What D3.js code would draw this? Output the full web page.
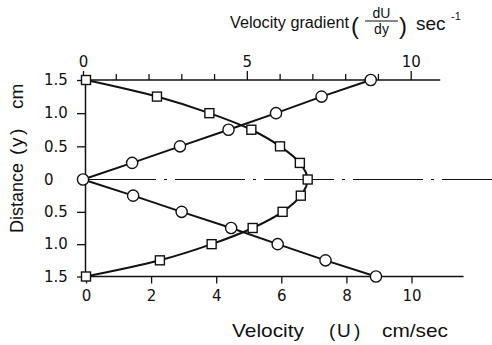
<!DOCTYPE html>
<html><head><meta charset="utf-8">
<script src="https://cdn.jsdelivr.net/npm/d3@7"></script>
<style>
html,body{margin:0;padding:0;background:#fff;}
svg{display:block;font-family:"DejaVu Sans",sans-serif;}
</style></head><body>
<svg id="chart" width="492" height="345"></svg>
<script>
// Distance from the centre line (cm); points below the centre are negative
const distance = [1.5, 1.25, 1.0, 0.75, 0.5, 0.25, 0, -0.25, -0.5, -0.75, -1.0, -1.25, -1.5];
// Velocity U (cm/sec) at each distance
const velocity = [0, 2.18, 3.79, 5.08, 5.96, 6.57, 6.81, 6.6, 6.04, 5.12, 3.86, 2.27, 0];
// Velocity gradient dU/dy (sec^-1) at each distance
const gradient = [8.78, 7.28, 5.89, 4.44, 2.96, 1.5, 0, 1.53, 3.01, 4.52, 5.94, 7.4, 8.94];

const velocityTicks = [0, 2, 4, 6, 8, 10];
const gradientMajorTicks = [0, 5, 10];
const gradientMinorTicks = [1, 2, 3, 4, 6, 7, 8, 9];
const distanceTicks = [1.5, 1.0, 0.5, 0, -0.5, -1.0, -1.5];

const svg = d3.select("#chart");
const ink = "#111";
const tickFont = "DejaVu Sans";
const titleFont = "Liberation Sans";

const xVel = d3.scaleLinear().domain([0, 10]).range([86, 411.5]);
const xGrad = d3.scaleLinear().domain([0, 10]).range([83, 410.7]);
const y = d3.scaleLinear().domain([1.5, 0, -1.5]).range([80, 179.5, 276.5]);
const axisX = 85;

const pts = distance.map((d, i) => ({d, v: velocity[i], g: gradient[i]}));

// centre line (dash-dot)
svg.append("line")
  .attr("x1", xVel(0)).attr("x2", 492)
  .attr("y1", y(0)).attr("y2", y(0))
  .attr("stroke", ink).attr("stroke-width", 1.1)
  .attr("stroke-dasharray", "70,8,3,8");

// left axis
const left = svg.append("g").attr("transform", `translate(${axisX},0)`)
  .call(d3.axisLeft(y).tickValues(distanceTicks).tickSize(8).tickSizeOuter(0)
    .tickFormat(d => d === 0 ? "0" : d3.format(".1f")(Math.abs(d))));
left.select(".domain").attr("stroke", ink).attr("stroke-width", 1.5);
left.selectAll(".tick line").attr("stroke", ink).attr("stroke-width", 1.3);
left.selectAll(".tick text").attr("text-anchor", "start").attr("x", 44 - axisX)
  .attr("font-size", 15).attr("font-family", tickFont).attr("fill", ink);

// top axis (velocity gradient)
const topY = y(1.5);
const topMajor = svg.append("g").attr("transform", `translate(0,${topY})`)
  .call(d3.axisTop(xGrad).tickValues(gradientMajorTicks).tickSize(9).tickPadding(4));
const topMinor = svg.append("g").attr("transform", `translate(0,${topY})`)
  .call(d3.axisTop(xGrad).tickValues(gradientMinorTicks).tickSize(6).tickFormat(""));
svg.append("line").attr("x1", xGrad(0)).attr("x2", xGrad(10.9))
  .attr("y1", topY).attr("y2", topY).attr("stroke", ink).attr("stroke-width", 1.5);

// bottom axis (velocity)
const botY = y(-1.5);
const bottom = svg.append("g").attr("transform", `translate(0,${botY})`)
  .call(d3.axisBottom(xVel).tickValues(velocityTicks).tickSize(7).tickPadding(7));
svg.append("line").attr("x1", xVel(0)).attr("x2", xVel(11.6))
  .attr("y1", botY).attr("y2", botY).attr("stroke", ink).attr("stroke-width", 1.5);

[topMajor, topMinor, bottom].forEach(g => {
  g.select(".domain").remove();
  g.selectAll(".tick line").attr("stroke", ink).attr("stroke-width", 1.3);
  g.selectAll(".tick text").attr("font-size", 15).attr("font-family", tickFont).attr("fill", ink);
});

// velocity profile (smooth curve through squares)
svg.append("path")
  .datum(pts)
  .attr("fill", "none").attr("stroke", ink).attr("stroke-width", 2)
  .attr("d", d3.line().x(p => xVel(p.v)).y(p => y(p.d)).curve(d3.curveCatmullRom.alpha(0.5)));

// velocity gradient (straight segments through circles), upper and lower halves
const gLine = d3.line().x(p => xGrad(p.g)).y(p => y(p.d));
svg.append("path").datum(pts.filter(p => p.d >= 0))
  .attr("fill", "none").attr("stroke", ink).attr("stroke-width", 2).attr("d", gLine);
svg.append("path").datum(pts.filter(p => p.d <= 0))
  .attr("fill", "none").attr("stroke", ink).attr("stroke-width", 2).attr("d", gLine);

// markers
const side = 9;
svg.append("g").selectAll("rect").data(pts).join("rect")
  .attr("x", p => xVel(p.v) - side / 2).attr("y", p => y(p.d) - side / 2)
  .attr("width", side).attr("height", side)
  .attr("fill", "#fff").attr("stroke", ink).attr("stroke-width", 1.4);
svg.append("g").selectAll("circle").data(pts).join("circle")
  .attr("cx", p => xGrad(p.g)).attr("cy", p => y(p.d)).attr("r", 5.6)
  .attr("fill", "#fff").attr("stroke", ink).attr("stroke-width", 1.4);

// top title: Velocity gradient (dU/dy) sec^-1
const t = svg.append("g").attr("fill", ink).attr("font-family", titleFont);
t.append("text").attr("x", 230).attr("y", 28).attr("font-size", 16)
  .attr("textLength", 119).attr("lengthAdjust", "spacingAndGlyphs").text("Velocity gradient");
t.append("text").attr("x", 351).attr("y", 34).attr("font-size", 24).text("(");
t.append("text").attr("x", 381.5).attr("y", 18).attr("font-size", 14).attr("text-anchor", "middle").text("dU");
t.append("line").attr("x1", 365).attr("x2", 398).attr("y1", 21).attr("y2", 21)
  .attr("stroke", ink).attr("stroke-width", 1.2);
t.append("text").attr("x", 381.5).attr("y", 34).attr("font-size", 14).attr("text-anchor", "middle").text("dy");
t.append("text").attr("x", 399).attr("y", 34).attr("font-size", 24).text(")");
t.append("text").attr("x", 416).attr("y", 30).attr("font-size", 19).text("sec");
t.append("text").attr("x", 451).attr("y", 20).attr("font-size", 11).text("-1");

// bottom title: Velocity ( U ) cm/sec
const b = svg.append("g").attr("fill", ink).attr("font-family", titleFont).attr("font-size", 19);
b.append("text").attr("x", 232).attr("y", 337)
  .attr("textLength", 72).attr("lengthAdjust", "spacingAndGlyphs").text("Velocity");
b.append("text").attr("x", 329).attr("y", 337).text("(");
b.append("text").attr("x", 337).attr("y", 337).text("U");
b.append("text").attr("x", 354).attr("y", 337).text(")");
b.append("text").attr("x", 382).attr("y", 337)
  .attr("textLength", 66).attr("lengthAdjust", "spacingAndGlyphs").text("cm/sec");

// left title: Distance (y) cm
const l = svg.append("text").attr("transform", "rotate(-90)")
  .attr("fill", ink).attr("font-family", titleFont).attr("font-size", 19).attr("y", 23);
l.append("tspan").attr("x", -233).attr("textLength", 70).attr("lengthAdjust", "spacingAndGlyphs").text("Distance");
l.append("tspan").attr("x", -155).text("(");
l.append("tspan").attr("x", -147).text("y");
l.append("tspan").attr("x", -135).text(")");
l.append("tspan").attr("x", -109).text("cm");
</script>
</body></html>
